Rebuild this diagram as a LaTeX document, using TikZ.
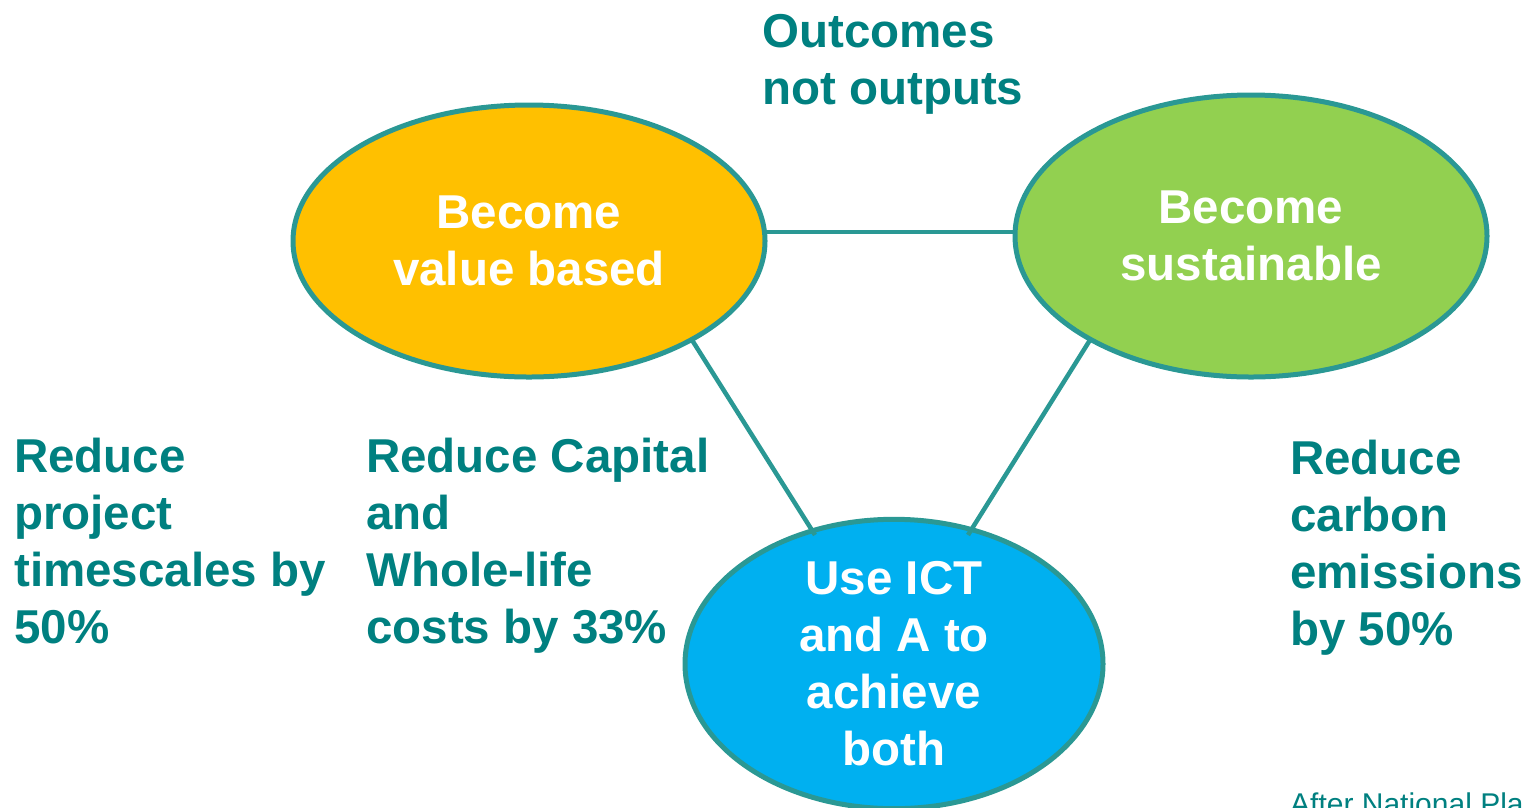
\documentclass[tikz,border=0pt]{standalone}
\usepackage{fontspec}
\setmainfont{Liberation Sans}
\usetikzlibrary{shapes.geometric}
\definecolor{edgeteal}{RGB}{42,152,148}
\definecolor{textteal}{RGB}{0,128,128}
\definecolor{goldfill}{RGB}{255,192,0}
\definecolor{greenfill}{RGB}{146,208,80}
\definecolor{bluefill}{RGB}{0,176,240}
\tikzset{
  bubble/.style={ellipse, draw=edgeteal, line width=5pt, inner sep=0pt, text=white, align=center,
    font=\fontsize{47.5}{57}\selectfont\bfseries},
  label/.style={text=textteal, align=left, inner sep=0pt, anchor=base west,
    font=\fontsize{47.5}{57}\selectfont\bfseries},
  link/.style={draw=edgeteal, line width=4.5pt}
}
\begin{document}
\begin{tikzpicture}[x=1pt,y=-1pt]
\useasboundingbox (0,0) rectangle (1528,807);
\node[bubble, fill=goldfill, minimum width=472pt, minimum height=272pt] (vb) at (529,241) {Become\\value based};
\node[bubble, fill=greenfill, minimum width=472pt, minimum height=282pt] (su) at (1251,236) {Become\\sustainable};
\node[bubble, fill=bluefill, minimum width=418pt, minimum height=282pt] (ict) at (894,664) {Use ICT\\and A to\\achieve\\both};
\coordinate (a1) at (765,232);
\coordinate (a2) at (1015,232);
\coordinate (b1) at (692,340);
\coordinate (b2) at (815,535);
\coordinate (c1) at (1090,340);
\coordinate (c2) at (968,535);
\draw[link] (a1) -- (a2);
\draw[link] (b1) -- (b2);
\draw[link] (c1) -- (c2);
\node[label] (out) at (762,104) {Outcomes\\not outputs};
\node[label] (t1) at (14,643) {Reduce\\project\\timescales by\\50\%};
\node[label] (t2) at (366,643) {Reduce Capital\\and\\Whole-life\\costs by 33\%};
\node[label] (t3) at (1290,645) {Reduce\\carbon\\emissions\\by 50\%};
\node[text=textteal, inner sep=0pt, anchor=base west, font=\fontsize{30}{34}\selectfont] (src) at (1290,814) {After National Pla};
\end{tikzpicture}
\end{document}
